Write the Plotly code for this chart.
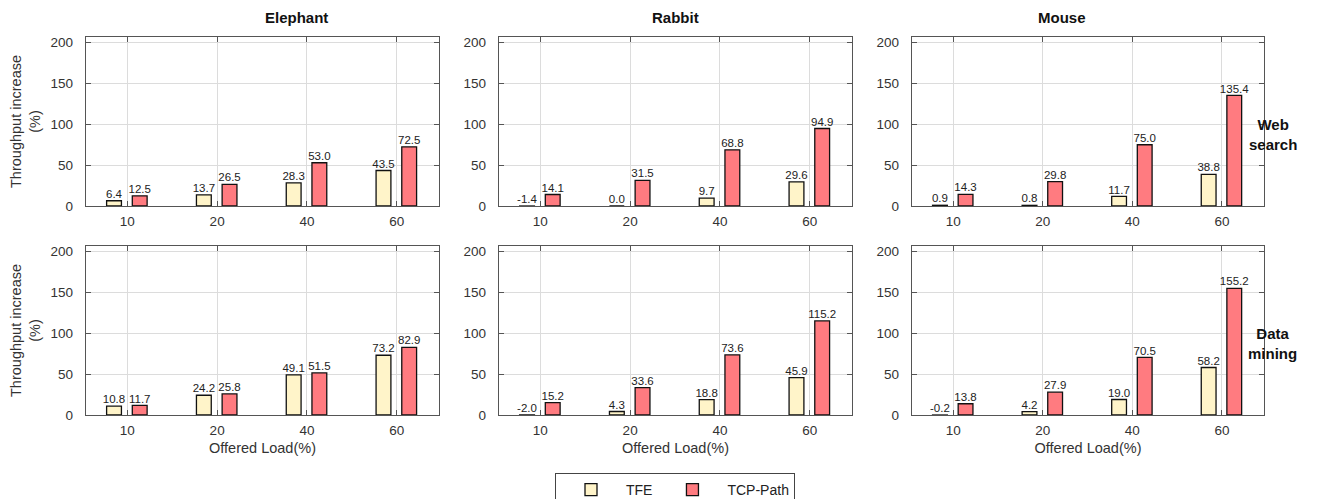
import plotly.graph_objects as go

loads = ["10", "20", "40", "60"]
flow_types = ["Elephant", "Rabbit", "Mouse"]
workloads = ["Web<br>search", "Data<br>mining"]

# Web search
ws_elephant_tfe = [6.4, 13.7, 28.3, 43.5]
ws_elephant_tcp = [12.5, 26.5, 53.0, 72.5]
ws_rabbit_tfe = [-1.4, 0.0, 9.7, 29.6]
ws_rabbit_tcp = [14.1, 31.5, 68.8, 94.9]
ws_mouse_tfe = [0.9, 0.8, 11.7, 38.8]
ws_mouse_tcp = [14.3, 29.8, 75.0, 135.4]
# Data mining
dm_elephant_tfe = [10.8, 24.2, 49.1, 73.2]
dm_elephant_tcp = [11.7, 25.8, 51.5, 82.9]
dm_rabbit_tfe = [-2.0, 4.3, 18.8, 45.9]
dm_rabbit_tcp = [15.2, 33.6, 73.6, 115.2]
dm_mouse_tfe = [-0.2, 4.2, 19.0, 58.2]
dm_mouse_tcp = [13.8, 27.9, 70.5, 155.2]

panels = [
    [(ws_elephant_tfe, ws_elephant_tcp), (ws_rabbit_tfe, ws_rabbit_tcp), (ws_mouse_tfe, ws_mouse_tcp)],
    [(dm_elephant_tfe, dm_elephant_tcp), (dm_rabbit_tfe, dm_rabbit_tcp), (dm_mouse_tfe, dm_mouse_tcp)],
]

# page body has an 8px margin; work in screen pixels and convert
OFF = 8
W, H = 1330, 512


def px(sx):
    return (sx - OFF) / W


def py(sy):
    return 1 - (sy - OFF) / H


col_px = [(86, 439), (499, 852), (912, 1264)]
row_px = [(37, 206), (246, 415)]

TFE_COLOR = "#FFF4C9"
TCP_COLOR = "#FF7B80"
EDGE = "#111111"
AXC = "#555555"
FONT = "Liberation Sans, Arial, sans-serif"
BAR_W = 0.165
TFE_OFF = -0.148
TCP_OFF = 0.138

idx = list(range(len(loads)))

fig = go.Figure()
layout = {}

for r in range(2):
    for c in range(3):
        i = r * 3 + c + 1
        xa = "x" if i == 1 else f"x{i}"
        ya = "y" if i == 1 else f"y{i}"
        tfe, tcp = panels[r][c]
        show = (i == 1)
        fig.add_trace(go.Bar(x=[k + TFE_OFF for k in idx], y=tfe, width=BAR_W, name="TFE",
                             marker=dict(color=TFE_COLOR, line=dict(color=EDGE, width=1.3)),
                             xaxis=xa, yaxis=ya, showlegend=show, legendgroup="tfe"))
        fig.add_trace(go.Bar(x=[k + TCP_OFF for k in idx], y=tcp, width=BAR_W, name="TCP-Path",
                             marker=dict(color=TCP_COLOR, line=dict(color=EDGE, width=1.3)),
                             xaxis=xa, yaxis=ya, showlegend=show, legendgroup="tcp"))
        for vals, off in ((tfe, TFE_OFF), (tcp, TCP_OFF)):
            fig.add_trace(go.Scatter(
                x=[k + off for k in idx], y=[max(v, 0) for v in vals],
                text=[f"{v:.1f}" for v in vals], mode="text", textposition="top center",
                textfont=dict(size=11.5, color="#222222", family=FONT),
                xaxis=xa, yaxis=ya, showlegend=False, hoverinfo="skip", cliponaxis=False,
            ))
        x0, x1 = col_px[c]
        y0, y1 = row_px[r]
        axis_common = dict(showline=True, linecolor=AXC, linewidth=1.4, mirror="ticks",
                           ticks="inside", ticklen=5, tickcolor=AXC, tickwidth=1.2,
                           showgrid=True, gridcolor="#DCDCDC", gridwidth=1, automargin=False,
                           tickfont=dict(size=13.5, color="#333333", family=FONT), zeroline=False)
        layout["xaxis" if i == 1 else f"xaxis{i}"] = dict(
            axis_common, domain=[px(x0), px(x1)], anchor=ya, type="linear",
            tickvals=idx, ticktext=loads, range=[-0.46, 3.47], ticklabelstandoff=3,
            title=dict(text="Offered Load(%)", font=dict(size=14.5, color="#333333", family=FONT), standoff=5) if r == 1 else None,
        )
        layout["yaxis" if i == 1 else f"yaxis{i}"] = dict(
            axis_common, domain=[py(y1), py(y0)], anchor=xa, range=[0, 207],
            tickvals=[0, 50, 100, 150, 200], ticklabelstandoff=9,
            title=dict(text="Throughput increase<br>(%)", font=dict(size=14.5, color="#333333", family=FONT), standoff=8) if c == 0 else None,
        )

annotations = []
for c, name in enumerate(flow_types):
    x0, x1 = col_px[c]
    annotations.append(dict(text=f"<b>{name}</b>", x=px((x0 + x1) / 2), y=py(17), xref="paper", yref="paper",
                            yanchor="middle", showarrow=False, font=dict(size=15, color="#111111", family=FONT)))
for r, name in enumerate(workloads):
    y0, y1 = row_px[r]
    annotations.append(dict(text=f"<b>{name}</b>", x=px(1299), y=py((y0 + y1) / 2 + 12.5), xref="paper", yref="paper",
                            yanchor="middle", showarrow=False, font=dict(size=15, color="#111111", family=FONT)))

fig.update_layout(
    **layout,
    width=W, height=H,
    margin=dict(l=0, r=0, t=0, b=0),
    paper_bgcolor="white", plot_bgcolor="white",
    barmode="overlay",
    annotations=annotations,
    font=dict(family=FONT, color="#333333"),
    legend=dict(orientation="h", x=px(675), xanchor="center", y=py(473), yanchor="top",
                bordercolor="#444444", borderwidth=1, font=dict(size=14, color="#222222", family=FONT),
                itemwidth=60, traceorder="normal"),
)

fig.write_html("out.html")
